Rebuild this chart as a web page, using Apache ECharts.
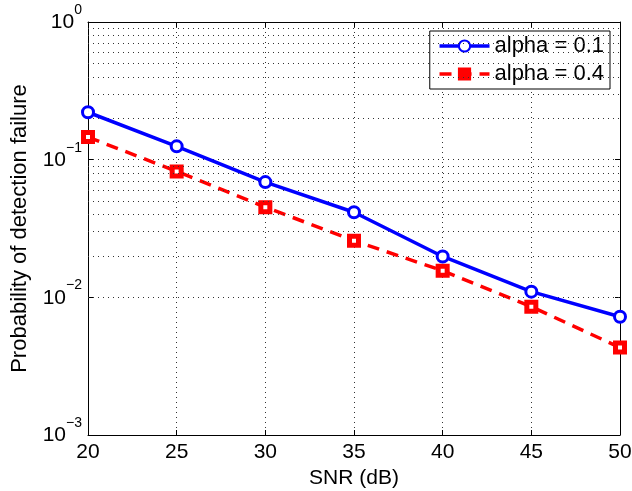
<!DOCTYPE html>
<html><head><meta charset="utf-8">
<script src="https://cdn.jsdelivr.net/npm/echarts@6/dist/echarts.min.js"></script>
<style>html,body{margin:0;padding:0;background:#fff}#c{width:632px;height:491px}</style>
</head><body><div id="c"></div>
<script>
var snr = [20, 25, 30, 35, 40, 45, 50];
var alpha01 = [0.221, 0.125, 0.0687, 0.0415, 0.0198, 0.0110, 0.00722];
var alpha04 = [0.146, 0.0822, 0.0452, 0.0258, 0.0156, 0.00855, 0.00432];
var seriesNames = ['alpha = 0.1', 'alpha = 0.4'];
var xTicks = [20, 25, 30, 35, 40, 45, 50];
var yMinorGrid = [];
[0.001, 0.01, 0.1].forEach(function (d) { for (var k = 2; k <= 9; k++) yMinorGrid.push(+(d * k).toPrecision(3)); });

var font = 'Liberation Sans, Arial, Helvetica, sans-serif';
var dotted = { color: '#333', width: 1, type: [1, 4] };
var chart = echarts.init(document.getElementById('c'), null, { renderer: 'canvas' });
function pair(a) { return snr.map(function (x, i) { return [x, a[i]]; }); }
chart.setOption({
  animation: false,
  backgroundColor: '#fff',
  grid: { left: 88, right: 12, top: 22, bottom: 56, show: false, containLabel: false, outerBoundsMode: 'none' },
  legend: {
    right: 22, top: 31, orient: 'vertical', itemWidth: 50, itemHeight: 14, itemGap: 6,
    backgroundColor: '#fff', borderColor: '#000', borderWidth: 1, padding: [4, 6, 4, 8],
    textStyle: { fontFamily: font, fontSize: 22, color: '#000' },
    data: [
      { name: seriesNames[0], lineStyle: { width: 3.5 } },
      { name: seriesNames[1], lineStyle: { width: 3.5 }, itemStyle: { color: '#ff0000', borderColor: '#ff0000' } }
    ]
  },
  xAxis: [{
    type: 'value', min: 20, max: 50, interval: 5,
    name: 'SNR (dB)', nameLocation: 'middle', nameGap: 33,
    nameTextStyle: { fontFamily: font, fontSize: 21, color: '#000' },
    axisLine: { show: true, onZero: false, lineStyle: { color: '#000', width: 1 } },
    axisTick: { show: true, inside: true, length: 5, lineStyle: { color: '#000' } },
    axisLabel: { fontFamily: font, fontSize: 21, color: '#000', margin: 7 },
    splitLine: { show: true, lineStyle: dotted }
  }, {
    type: 'value', min: 20, max: 50, interval: 5, position: 'top',
    axisLine: { show: true, onZero: false, lineStyle: { color: '#000', width: 1 } },
    axisTick: { show: true, inside: true, length: 5, lineStyle: { color: '#000' } },
    axisLabel: { show: false }, splitLine: { show: false }
  }],
  yAxis: [{
    type: 'log', logBase: 10, min: 0.001, max: 1,
    name: 'Probability of detection failure', nameLocation: 'middle', nameGap: 57,
    nameTextStyle: { fontFamily: font, fontSize: 22, color: '#000' },
    axisLine: { show: true, onZero: false, lineStyle: { color: '#000', width: 1 } },
    axisTick: { show: true, inside: true, length: 5, lineStyle: { color: '#000' } },
    axisLabel: {
      margin: 6,
      formatter: function (v) { var e = Math.round(Math.log10(v)); return '{b|10}{s|' + (e < 0 ? '\u2212' + (-e) : e) + '}'; },
      rich: {
        b: { fontFamily: font, fontSize: 21, lineHeight: 22, color: '#000', verticalAlign: 'bottom', padding: [0, 0, 0, 0] },
        s: { fontFamily: font, fontSize: 14, lineHeight: 14, color: '#000', verticalAlign: 'bottom', padding: [0, 0, 16, 0] }
      }
    },
    splitLine: { show: true, lineStyle: dotted }
  }, {
    type: 'log', logBase: 10, min: 0.001, max: 1, position: 'right',
    axisLine: { show: true, onZero: false, lineStyle: { color: '#000', width: 1 } },
    axisTick: { show: true, inside: true, length: 5, lineStyle: { color: '#000' } },
    axisLabel: { show: false }, splitLine: { show: false }
  }],
  series: [{
    name: seriesNames[0], type: 'line', data: pair(alpha01),
    symbol: 'circle', symbolSize: 11, showSymbol: true,
    lineStyle: { color: '#0000ff', width: 3.5 },
    itemStyle: { color: '#fff', borderColor: '#0000ff', borderWidth: 3 },
    z: 5,
    markLine: {
      silent: true, symbol: 'none', label: { show: false },
      lineStyle: dotted, animation: false,
      data: yMinorGrid.map(function (v) { return { yAxis: v }; })
    }
  }, {
    name: seriesNames[1], type: 'line', data: pair(alpha04),
    symbol: 'rect', symbolSize: 9, showSymbol: true,
    lineStyle: { color: '#ff0000', width: 3.5, type: [12, 8] },
    itemStyle: { color: '#fff', borderColor: '#ff0000', borderWidth: 5 },
    z: 4
  }]
});
</script></body></html>
